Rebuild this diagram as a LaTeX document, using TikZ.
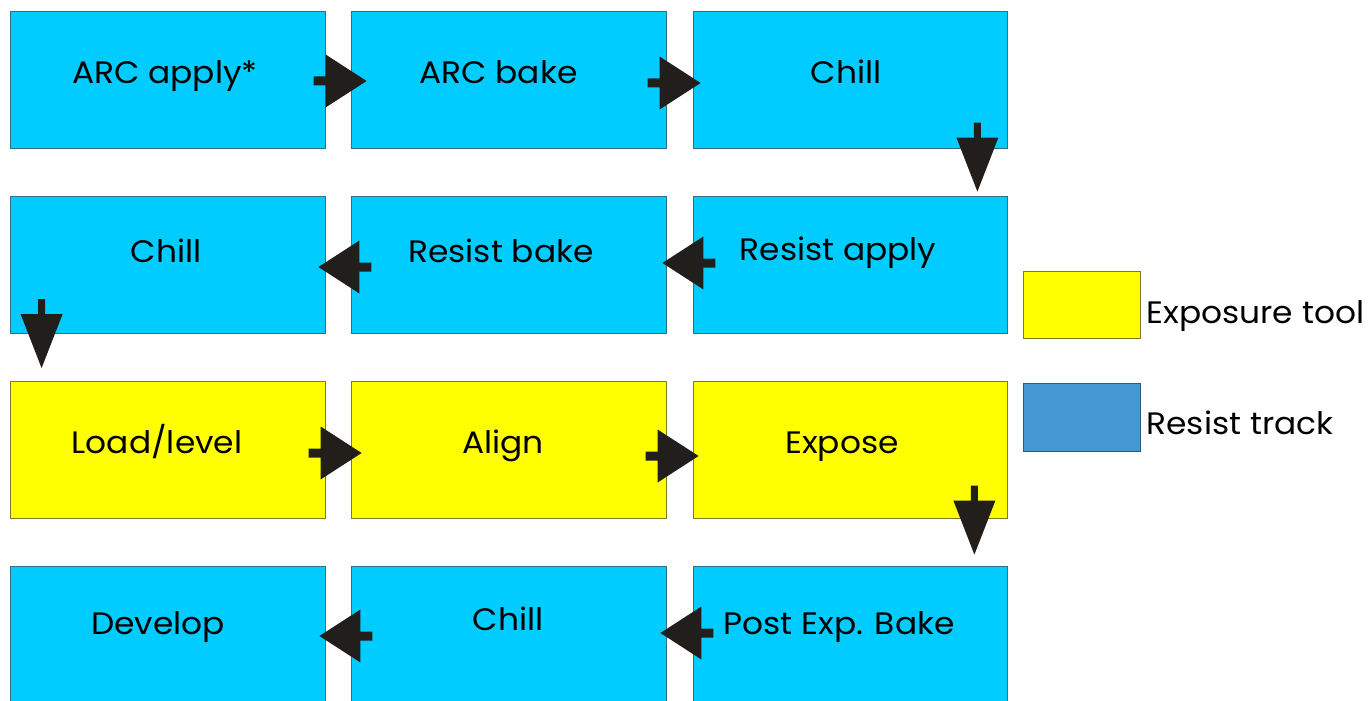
\documentclass[tikz,border=0pt]{standalone}
\usepackage{fontspec}
\setmainfont{Poppins}[FakeStretch=1.06]
\usetikzlibrary{calc}
\definecolor{trackblue}{HTML}{00CCFF}
\definecolor{trackedge}{HTML}{2F6F86}
\definecolor{expyellow}{HTML}{FFFF00}
\definecolor{expedge}{HTML}{7A7A2A}
\definecolor{legblue}{HTML}{4499D3}
\definecolor{legblueedge}{HTML}{2D5B7C}
\definecolor{arrowfill}{HTML}{221E1C}
\tikzset{
  procbox/.style={rectangle, inner sep=0pt, minimum width=315pt, minimum height=137pt, line width=0.8pt},
  trackbox/.style={procbox, fill=trackblue, draw=trackedge},
  expbox/.style={procbox, fill=expyellow, draw=expedge},
  lbl/.style={inner sep=0pt, text height=21.5pt, text depth=0pt, font=\fontsize{31}{33}\selectfont},
  legbox/.style={rectangle, inner sep=0pt, minimum width=117pt, minimum height=67pt, line width=0.8pt},
  rarrow/.pic={\fill[arrowfill] (-53,-4.5)--(-41,-4.5)--(-41,-26.5)--(0,0)--(-41,26.5)--(-41,4.5)--(-53,4.5)--cycle;},
  larrow/.pic={\fill[arrowfill] (53,-4.5)--(41,-4.5)--(41,-26.5)--(0,0)--(41,26.5)--(41,4.5)--(53,4.5)--cycle;},
  darrow/.pic={\fill[arrowfill] (-3.5,-69)--(-3.5,-54)--(-21,-54)--(0,0)--(21,-54)--(3.5,-54)--(3.5,-69)--cycle;}
}
\begin{document}
\begin{tikzpicture}[x=1pt,y=-1pt]
\useasboundingbox (0,0) rectangle (1371,701);
% row 1
\node[trackbox, label={[lbl,xshift=-2.5pt,yshift=7pt]center:ARC apply*}] (a1) at (167.5,80) {};
\node[trackbox, label={[lbl,xshift=-10pt,yshift=7pt]center:ARC bake}] (a2) at (508.5,80) {};
\node[trackbox, minimum width=314pt, label={[lbl,xshift=-4pt,yshift=7pt]center:Chill}] (a3) at (850,80) {};
% row 2
\node[trackbox, label={[lbl,xshift=-1.5pt,yshift=12.5pt]center:Chill}] (b1) at (167.5,264.5) {};
\node[trackbox, label={[lbl,xshift=-7.5pt,yshift=12.5pt]center:Resist bake}] (b2) at (508.5,264.5) {};
\node[trackbox, minimum width=314pt, label={[lbl,xshift=-12pt,yshift=14.5pt]center:Resist apply}] (b3) at (850,264.5) {};
% row 3
\node[expbox, label={[lbl,xshift=-10.5pt,yshift=7pt]center:Load/level}] (c1) at (167.5,450) {};
\node[expbox, label={[lbl,xshift=-5.5pt,yshift=7pt]center:Align}] (c2) at (508.5,450) {};
\node[expbox, minimum width=314pt, label={[lbl,xshift=-8pt,yshift=7pt]center:Expose}] (c3) at (850,450) {};
% row 4
\node[trackbox, label={[lbl,xshift=-9.5pt,yshift=10.5pt]center:Develop}] (d1) at (167.5,634.5) {};
\node[trackbox, label={[lbl,xshift=-0.5pt,yshift=14.5pt]center:Chill}] (d2) at (508.5,634.5) {};
\node[trackbox, minimum width=314pt, label={[lbl,xshift=-11pt,yshift=10.5pt]center:Post Exp. Bake}] (d3) at (850,634.5) {};
% legend
\node[legbox, fill=expyellow, draw=expedge, label={[lbl,anchor=west,xshift=6pt,yshift=-8.5pt]east:Exposure tool}] (l1) at (1081.5,304.5) {};
\node[legbox, minimum height=68pt, fill=legblue, draw=legblueedge, label={[lbl,anchor=west,xshift=6pt,yshift=-7pt]east:Resist track}] (l2) at (1081.5,417) {};
% arrows
\pic at ($(a2.west)+(16,1)$) {rarrow};
\pic at ($(a3.west)+(8,3)$) {rarrow};
\pic at ($(b3.north east)+(-30,-4)$) {darrow};
\pic at ($(b2.east)+(-4,-1.5)$) {larrow};
\pic at ($(b1.east)+(-7,2.5)$) {larrow};
\pic at ($(c1.north west)+(32,-13)$) {darrow};
\pic at ($(c2.west)+(11,3)$) {rarrow};
\pic at ($(c3.west)+(6,6)$) {rarrow};
\pic at ($(d3.north east)+(-33,-11)$) {darrow};
\pic at ($(d2.east)+(-6,-1.5)$) {larrow};
\pic at ($(d1.east)+(-6,1.5)$) {larrow};
\end{tikzpicture}
\end{document}
